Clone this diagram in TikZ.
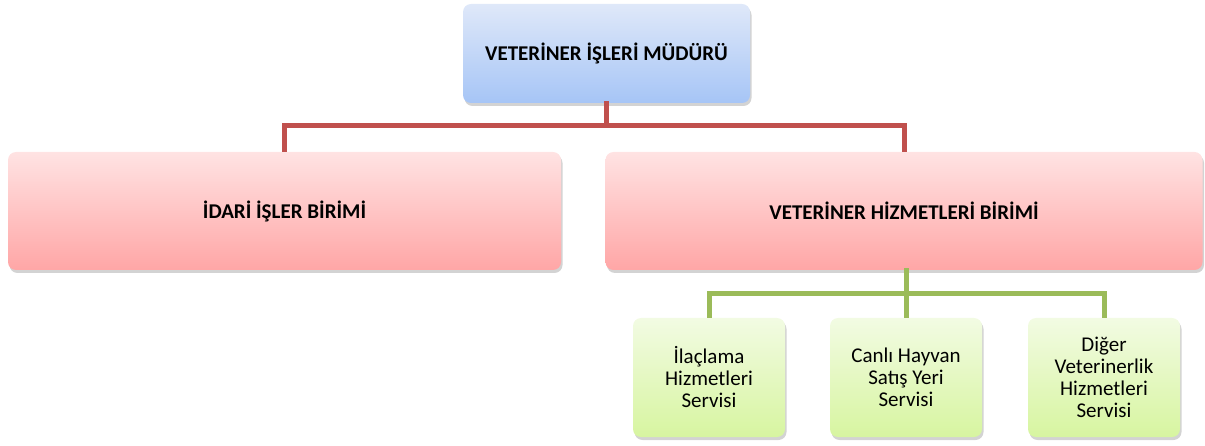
\documentclass[tikz,border=0pt]{standalone}
\usepackage{fontspec}
\setmainfont{Carlito}
\usetikzlibrary{shadows}
\definecolor{redline}{HTML}{C0504D}
\definecolor{greenline}{HTML}{9BBB59}
\definecolor{bluetop}{HTML}{DFE8F9}
\definecolor{bluebot}{HTML}{A6C5F6}
\definecolor{redtop}{HTML}{FFE3E3}
\definecolor{redbot}{HTML}{FFA6A6}
\definecolor{greentop}{HTML}{F2FBE3}
\definecolor{greenbot}{HTML}{D7F5A0}
\tikzset{
  boxbase/.style={rounded corners=8pt, align=center, inner sep=2pt,
    drop shadow={opacity=0.35, shadow xshift=1.5pt, shadow yshift=-3pt}},
  bluebox/.style={boxbase, top color=bluetop, bottom color=bluebot,
    minimum width=287pt, minimum height=99pt, font=\fontsize{21}{23}\selectfont\bfseries},
  redbox/.style={boxbase, top color=redtop, bottom color=redbot,
    minimum height=118pt, font=\fontsize{21}{23}\selectfont\bfseries},
  greenbox/.style={boxbase, top color=greentop, bottom color=greenbot,
    minimum width=152pt, minimum height=119pt, font=\fontsize{21}{22}\selectfont},
  redconn/.style={draw=redline, line width=5pt},
  greenconn/.style={draw=greenline, line width=5pt},
}
\begin{document}
\begin{tikzpicture}[x=1pt,y=1pt]
\useasboundingbox (0,0) rectangle (1205,-446);
\coordinate (rbus) at (0,-126);
\coordinate (gbus) at (0,-294);
\draw[redconn] (606.5,-53.5) -- (606.5,-126);
\node[bluebox] (top) at (606.5,-53.5) {\raisebox{4pt}{VETERİNER İŞLERİ MÜDÜRÜ}};
\node[redbox, minimum width=553pt] (left) at (284.5,-211) {İDARİ İŞLER BİRİMİ};
\node[redbox, minimum width=597pt] (right) at (904,-211) {VETERİNER HİZMETLERİ BİRİMİ};
\node[greenbox] (g1) at (709,-377.5) {İlaçlama\\Hizmetleri\\Servisi};
\node[greenbox] (g2) at (906,-377.5) {Canlı Hayvan\\Satış Yeri\\Servisi};
\node[greenbox] (g3) at (1104,-377.5) {Diğer\\Veterinerlik\\Hizmetleri\\Servisi};
\draw[redconn, line cap=rect] (top.south) -- (top.south|-rbus);
\draw[redconn] (top.south|-rbus) -| (left.north);
\draw[redconn] (top.south|-rbus) -| (right.north);
\draw[greenconn, line cap=rect] (g2.north|-right.south) -- (g2.north|-gbus);
\draw[greenconn] (g2.north|-gbus) -| (g1.north);
\draw[greenconn] (g2.north|-gbus) -| (g3.north);
\draw[greenconn] (g2.north|-gbus) -- (g2.north);
\end{tikzpicture}
\end{document}
